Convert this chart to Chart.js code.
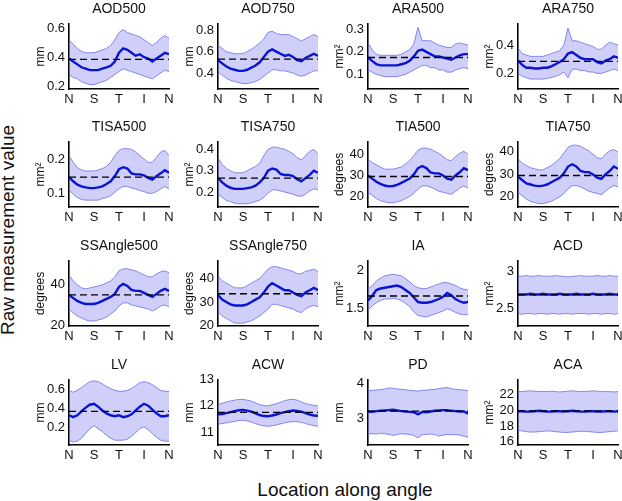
<!DOCTYPE html>
<html>
<head>
<meta charset="utf-8">
<script src="https://cdn.jsdelivr.net/npm/chart.js@4.4.0/dist/chart.umd.min.js"></script>
<style>
  body { margin: 0; background: #fff; width: 622px; height: 501px; position: relative; overflow: hidden;
         font-family: "Liberation Sans", Arial, sans-serif; color: #111; }
  .panel { position: absolute; }
  .ttl { position: absolute; width: 140px; text-align: center; font-size: 14px; line-height: 15px; }
  #ylab { position: absolute; left: 8px; top: 230px; font-size: 19px; white-space: nowrap;
          transform: translate(-50%, -50%) rotate(-90deg); }
  #xlab { position: absolute; left: 345px; top: 490px; font-size: 19px; white-space: nowrap;
          transform: translate(-50%, -50%); }
</style>
</head>
<body>
<div id="ylab">Raw measurement value</div>
<div id="xlab">Location along angle</div>
<script>
// x positions run 0..24, ticks N S T I N every 6
const xTickLabels = ['N', 'S', 'T', 'I', 'N'];
const xTickValues = [0, 6, 12, 18, 24];

const titles = ['AOD500', 'AOD750', 'ARA500', 'ARA750',
                'TISA500', 'TISA750', 'TIA500', 'TIA750',
                'SSAngle500', 'SSAngle750', 'IA', 'ACD',
                'LV', 'ACW', 'PD', 'ACA'];
const units = ['mm', 'mm', 'mm²', 'mm²',
               'mm²', 'mm²', 'degrees', 'degrees',
               'degrees', 'degrees', 'mm²', 'mm²',
               'mm', 'mm', 'mm', 'mm²'];
const yRanges = [[0.18, 0.63], [0.25, 0.86], [0.035, 0.325], [0.09, 0.55],
                 [0.06, 0.25], [0.13, 0.435], [15, 46], [15.5, 44.5],
                 [19.5, 52], [19.8, 47.5], [1.26, 2.13], [2.26, 3.15],
                 [0.02, 0.70], [10.5, 13], [2.25, 4.1], [15.6, 23.9]];
const yTicks = [[0.2, 0.4, 0.6], [0.4, 0.6, 0.8], [0.1, 0.2, 0.3], [0.2, 0.4],
                [0.1, 0.2], [0.2, 0.3, 0.4], [20, 30, 40], [20, 30, 40],
                [20, 40], [20, 30, 40], [1.5, 2], [2.5, 3],
                [0.2, 0.4, 0.6], [11, 12, 13], [3, 4], [16, 18, 20, 22]];
const refValues = [0.385, 0.53, 0.175, 0.285,
                   0.147, 0.265, 29.5, 29.5,
                   35, 33.5, 1.66, 2.685,
                   0.37, 11.75, 3.21, 19.95];

const aod500Mean  = [0.39,0.37,0.35,0.33,0.32,0.31,0.31,0.31,0.32,0.33,0.34,0.37,0.43,0.46,0.45,0.43,0.41,0.42,0.40,0.39,0.37,0.39,0.41,0.43,0.42];
const aod500Upper = [0.52,0.49,0.46,0.44,0.43,0.43,0.43,0.44,0.45,0.46,0.48,0.52,0.57,0.59,0.57,0.56,0.55,0.54,0.52,0.50,0.48,0.50,0.53,0.55,0.53];
const aod500Lower = [0.28,0.26,0.25,0.23,0.22,0.21,0.21,0.22,0.23,0.24,0.26,0.28,0.30,0.32,0.31,0.30,0.29,0.28,0.27,0.26,0.25,0.27,0.29,0.31,0.30];

const aod750Mean  = [0.52,0.49,0.46,0.44,0.43,0.42,0.42,0.43,0.45,0.47,0.50,0.55,0.60,0.62,0.60,0.58,0.56,0.57,0.55,0.52,0.51,0.54,0.56,0.58,0.56];
const aod750Upper = [0.66,0.63,0.60,0.59,0.58,0.58,0.58,0.60,0.62,0.65,0.68,0.72,0.78,0.79,0.77,0.76,0.76,0.76,0.74,0.72,0.70,0.72,0.74,0.76,0.74];
const aod750Lower = [0.41,0.38,0.35,0.33,0.32,0.31,0.30,0.30,0.31,0.32,0.34,0.37,0.40,0.43,0.43,0.42,0.42,0.41,0.40,0.38,0.37,0.38,0.40,0.42,0.42];

const ara500Mean  = [0.175,0.16,0.145,0.14,0.14,0.14,0.14,0.14,0.145,0.15,0.16,0.18,0.205,0.21,0.20,0.19,0.18,0.18,0.175,0.17,0.165,0.175,0.185,0.19,0.19];
const ara500Upper = [0.24,0.21,0.19,0.185,0.185,0.185,0.185,0.185,0.19,0.20,0.21,0.235,0.31,0.25,0.25,0.25,0.24,0.23,0.225,0.22,0.22,0.235,0.24,0.235,0.23];
const ara500Lower = [0.12,0.11,0.10,0.095,0.09,0.09,0.09,0.09,0.095,0.10,0.11,0.12,0.13,0.14,0.14,0.13,0.13,0.12,0.12,0.11,0.11,0.12,0.125,0.13,0.125];

const ara750Mean  = [0.29,0.26,0.24,0.24,0.235,0.235,0.24,0.24,0.25,0.265,0.28,0.30,0.34,0.35,0.33,0.31,0.30,0.30,0.30,0.28,0.27,0.29,0.30,0.32,0.31];
const ara750Upper = [0.38,0.34,0.33,0.32,0.32,0.32,0.32,0.33,0.34,0.35,0.36,0.40,0.52,0.43,0.43,0.42,0.41,0.40,0.39,0.37,0.37,0.40,0.42,0.41,0.40];
const ara750Lower = [0.20,0.18,0.17,0.16,0.16,0.16,0.16,0.165,0.17,0.18,0.19,0.21,0.17,0.23,0.23,0.22,0.22,0.21,0.21,0.20,0.20,0.21,0.22,0.23,0.22];

const tisa500Mean  = [0.147,0.135,0.125,0.12,0.117,0.115,0.115,0.117,0.12,0.127,0.135,0.15,0.17,0.176,0.172,0.158,0.155,0.155,0.152,0.145,0.14,0.15,0.158,0.167,0.16];
const tisa500Upper = [0.21,0.19,0.175,0.168,0.165,0.165,0.165,0.168,0.172,0.178,0.19,0.21,0.225,0.23,0.23,0.228,0.22,0.21,0.20,0.19,0.19,0.205,0.22,0.225,0.21];
const tisa500Lower = [0.11,0.097,0.088,0.082,0.08,0.08,0.08,0.08,0.085,0.088,0.093,0.103,0.113,0.12,0.12,0.115,0.113,0.108,0.105,0.10,0.10,0.105,0.113,0.12,0.112];

const tisa750Mean  = [0.265,0.245,0.23,0.22,0.215,0.215,0.215,0.218,0.222,0.23,0.245,0.265,0.30,0.31,0.305,0.285,0.28,0.28,0.275,0.26,0.25,0.265,0.28,0.30,0.29];
const tisa750Upper = [0.36,0.33,0.31,0.30,0.29,0.29,0.29,0.30,0.31,0.32,0.335,0.37,0.40,0.41,0.41,0.405,0.40,0.39,0.38,0.36,0.35,0.37,0.39,0.40,0.38];
const tisa750Lower = [0.19,0.175,0.16,0.155,0.148,0.145,0.145,0.145,0.15,0.155,0.162,0.175,0.195,0.21,0.21,0.205,0.20,0.195,0.19,0.182,0.18,0.19,0.205,0.215,0.21];

const tia500Mean  = [30,28.5,27,26,25.2,24.8,25,25.5,26.5,27.5,28.5,30.5,33.5,34.5,33.5,31.5,31,31,30,28.5,28,30,31.5,33.5,32.5];
const tia500Upper = [38,36,35,34,33,33,33,33.5,34,35.5,37,39.5,42,43,43,42.5,41.5,40.5,39,37.5,37,39,40.5,41.5,40];
const tia500Lower = [22,20.5,19,18,17.5,17,17,17.5,18,19,20,21.5,23.5,25,25,24.5,23.5,22.5,22,21.5,21,22.5,24,25,24];

const tia750Mean  = [29,27.5,26,25.5,25,24.8,25,25.5,26.5,27.5,28.5,30.5,33.5,34.5,33.5,31.5,31,31,30,28.5,28,30,31.5,33.5,32.5];
const tia750Upper = [37,35,34,33,32.5,32,32,33,34,35.5,37,39.5,42,43,43,42.5,41.5,40.5,39,37.5,37,39,40.5,41,40];
const tia750Lower = [22,20.5,19,18,17.5,17,17,17.5,18,19,20,21.5,23.5,25,25,24.5,23.5,22.5,22,21.5,21,22.5,24,25,24.5];

const ssa500Mean  = [35,33.5,32,31,30.5,30.5,30.5,31,32,33,34,35.5,39,40.5,39.5,37.5,37,37,36,35,34,35.5,37,38,37];
const ssa500Upper = [45,42,40,38.5,38,38.5,39,39.5,40,41,42,44,47,48,48,47.5,47,46,45,44,44,45.5,46.5,47,46];
const ssa500Lower = [28,26,24.5,23.5,22.5,22,22,22.5,23,24,25.5,27,29.5,31,31,30,29.5,29,28.5,28,27,28,29.5,30,29];

const ssa750Mean  = [33,31,30,29,28.5,28.5,28.5,29,30,31,32,34,36.5,38,37,36,35,35,34,33,32.5,34,35,36,35];
const ssa750Upper = [41,39,38,37,36,36,36,37,38,39,40,42,44,45,45,44.5,44,43.5,43,42,42,43,43.5,44,43];
const ssa750Lower = [26,24,23,22,21,21,21,21.5,22,23,24,25.5,27,29,29,28.5,28,27.5,27,26,25.5,27,28,28.5,28];

const iaMean  = [1.60,1.66,1.74,1.76,1.77,1.78,1.79,1.80,1.78,1.74,1.70,1.64,1.58,1.57,1.57,1.58,1.60,1.62,1.65,1.70,1.67,1.62,1.59,1.57,1.58];
const iaUpper = [1.75,1.80,1.86,1.90,1.93,1.94,1.95,1.94,1.93,1.89,1.85,1.80,1.77,1.76,1.76,1.78,1.80,1.82,1.84,1.84,1.82,1.80,1.77,1.75,1.74];
const iaLower = [1.47,1.53,1.57,1.60,1.62,1.62,1.63,1.62,1.60,1.56,1.52,1.45,1.40,1.39,1.38,1.40,1.42,1.44,1.46,1.49,1.47,1.44,1.42,1.41,1.41];

const acdMean  = [2.69,2.69,2.69,2.70,2.69,2.69,2.70,2.69,2.69,2.69,2.70,2.69,2.69,2.69,2.70,2.69,2.69,2.69,2.70,2.69,2.69,2.69,2.70,2.69,2.69];
const acdUpper = [2.94,2.94,2.95,2.94,2.94,2.95,2.94,2.94,2.94,2.95,2.94,2.94,2.93,2.94,2.94,2.95,2.94,2.94,2.94,2.95,2.94,2.94,2.95,2.94,2.94];
const acdLower = [2.43,2.42,2.43,2.43,2.42,2.43,2.43,2.42,2.43,2.43,2.42,2.43,2.43,2.42,2.43,2.43,2.43,2.42,2.43,2.43,2.42,2.43,2.43,2.42,2.43];

const lvMean  = [0.33,0.31,0.33,0.37,0.41,0.44,0.45,0.42,0.38,0.35,0.33,0.32,0.33,0.31,0.32,0.34,0.38,0.42,0.45,0.43,0.39,0.35,0.32,0.32,0.33];
const lvUpper = [0.59,0.57,0.59,0.62,0.65,0.68,0.69,0.68,0.66,0.63,0.61,0.59,0.58,0.58,0.59,0.61,0.64,0.67,0.68,0.67,0.65,0.62,0.59,0.58,0.58];
const lvLower = [0.07,0.05,0.06,0.09,0.14,0.19,0.22,0.19,0.16,0.12,0.09,0.07,0.07,0.07,0.08,0.11,0.15,0.19,0.21,0.18,0.14,0.10,0.07,0.06,0.06];

const acwMean  = [11.68,11.69,11.72,11.76,11.80,11.83,11.84,11.82,11.78,11.71,11.65,11.61,11.60,11.63,11.67,11.72,11.76,11.80,11.82,11.81,11.78,11.72,11.67,11.63,11.62];
const acwUpper = [12.05,12.10,12.15,12.19,12.22,12.25,12.25,12.22,12.18,12.12,12.05,12.01,12.00,12.04,12.09,12.14,12.20,12.24,12.25,12.22,12.15,12.09,12.05,12.02,12.00];
const acwLower = [11.30,11.32,11.35,11.38,11.40,11.44,11.45,11.42,11.38,11.32,11.27,11.23,11.22,11.24,11.27,11.31,11.35,11.38,11.40,11.39,11.37,11.32,11.28,11.24,11.22];

const pdMean  = [3.20,3.19,3.21,3.22,3.23,3.24,3.25,3.23,3.21,3.20,3.19,3.18,3.12,3.19,3.18,3.20,3.22,3.23,3.24,3.24,3.22,3.21,3.20,3.20,3.14];
const pdUpper = [3.80,3.80,3.81,3.82,3.84,3.87,3.86,3.84,3.83,3.82,3.80,3.79,3.78,3.80,3.81,3.82,3.83,3.85,3.87,3.88,3.85,3.83,3.82,3.81,3.79];
const pdLower = [2.55,2.58,2.56,2.58,2.57,2.55,2.52,2.55,2.57,2.56,2.55,2.52,2.45,2.54,2.55,2.56,2.55,2.50,2.53,2.55,2.54,2.55,2.53,2.50,2.47];

const acaMean  = [19.9,19.9,19.85,19.85,19.9,19.95,19.9,19.85,19.85,19.9,19.9,19.85,19.9,19.95,19.9,19.85,19.85,19.9,19.9,19.85,19.85,19.9,19.9,19.85,19.9];
const acaUpper = [22.4,22.4,22.45,22.5,22.45,22.4,22.4,22.4,22.45,22.4,22.35,22.4,22.45,22.5,22.45,22.4,22.4,22.45,22.5,22.45,22.4,22.4,22.4,22.35,22.4];
const acaLower = [17.45,17.4,17.3,17.25,17.25,17.3,17.35,17.4,17.35,17.3,17.25,17.2,17.2,17.25,17.3,17.35,17.35,17.3,17.25,17.2,17.2,17.25,17.3,17.35,17.4];

const means  = [aod500Mean, aod750Mean, ara500Mean, ara750Mean, tisa500Mean, tisa750Mean, tia500Mean, tia750Mean,
                ssa500Mean, ssa750Mean, iaMean, acdMean, lvMean, acwMean, pdMean, acaMean];
const uppers = [aod500Upper, aod750Upper, ara500Upper, ara750Upper, tisa500Upper, tisa750Upper, tia500Upper, tia750Upper,
                ssa500Upper, ssa750Upper, iaUpper, acdUpper, lvUpper, acwUpper, pdUpper, acaUpper];
const lowers = [aod500Lower, aod750Lower, ara500Lower, ara750Lower, tisa500Lower, tisa750Lower, tia500Lower, tia750Lower,
                ssa500Lower, ssa750Lower, iaLower, acdLower, lvLower, acwLower, pdLower, acaLower];

// layout of the 4x4 grid (plot area corners)
const colLefts = [69, 218, 368, 518];
const rowTops = [20, 138, 257, 376];
const plotW = 100, plotH = 69;
const padL = 44, padT = 8, padR = 10, padB = 22;
const FONT = '"Liberation Sans", Arial, sans-serif';

const pts = arr => arr.map((v, k) => ({ x: k, y: v }));

titles.forEach((title, i) => {
  const r = Math.floor(i / 4), c = i % 4;
  const wrap = document.createElement('div');
  wrap.className = 'panel';
  wrap.style.left = (colLefts[c] - padL) + 'px';
  wrap.style.top = (rowTops[r] - padT) + 'px';
  wrap.style.width = (padL + plotW + padR) + 'px';
  wrap.style.height = (padT + plotH + padB) + 'px';
  const cv = document.createElement('canvas');
  wrap.appendChild(cv);
  document.body.appendChild(wrap);

  const tl = document.createElement('div');
  tl.className = 'ttl';
  tl.textContent = title;
  tl.style.left = (colLefts[c] + plotW / 2 - 70) + 'px';
  tl.style.top = (rowTops[r] - 19) + 'px';
  document.body.appendChild(tl);

  const last = means[i].length - 1;
  new Chart(cv, {
    type: 'line',
    data: {
      datasets: [
        { data: [{ x: 0, y: refValues[i] }, { x: last, y: refValues[i] }],
          borderColor: '#000', borderWidth: 1.3, borderDash: [7, 4] },
        { data: pts(means[i]), borderColor: '#0a14d2', borderWidth: 2.4 },
        { data: pts(uppers[i]), borderColor: 'rgba(110,110,235,0.8)', borderWidth: 1,
          fill: '+1', backgroundColor: 'rgba(105,105,240,0.32)' },
        { data: pts(lowers[i]), borderColor: 'rgba(110,110,235,0.8)', borderWidth: 1 }
      ]
    },
    options: {
      responsive: true,
      maintainAspectRatio: false,
      animation: false,
      events: [],
      layout: { padding: { top: padT, right: padR, left: 0, bottom: 0 } },
      elements: { point: { radius: 0 }, line: { tension: 0 } },
      plugins: { legend: { display: false }, tooltip: { enabled: false } },
      scales: {
        x: {
          type: 'linear', min: 0, max: last,
          afterFit: s => { s.height = padB; },
          afterBuildTicks: s => { s.ticks = xTickValues.map(v => ({ value: v })); },
          grid: { display: false, drawTicks: false },
          border: { color: '#000', width: 1.6 },
          ticks: { callback: (v, k) => xTickLabels[k], maxRotation: 0, autoSkip: false,
                   padding: 3, color: '#111', font: { family: FONT, size: 13 } }
        },
        y: {
          min: yRanges[i][0], max: yRanges[i][1],
          afterFit: s => { s.width = padL; },
          afterBuildTicks: s => { s.ticks = yTicks[i].map(v => ({ value: v })); },
          grid: { display: false, drawTicks: false },
          border: { color: '#000', width: 1.6 },
          ticks: { callback: v => String(v), padding: 4, color: '#111', font: { family: FONT, size: 13 } },
          title: { display: true, text: units[i], color: '#111', padding: { top: 8, bottom: 0 },
                   font: { family: FONT, size: 12 } }
        }
      }
    }
  });
});
</script>
</body>
</html>
